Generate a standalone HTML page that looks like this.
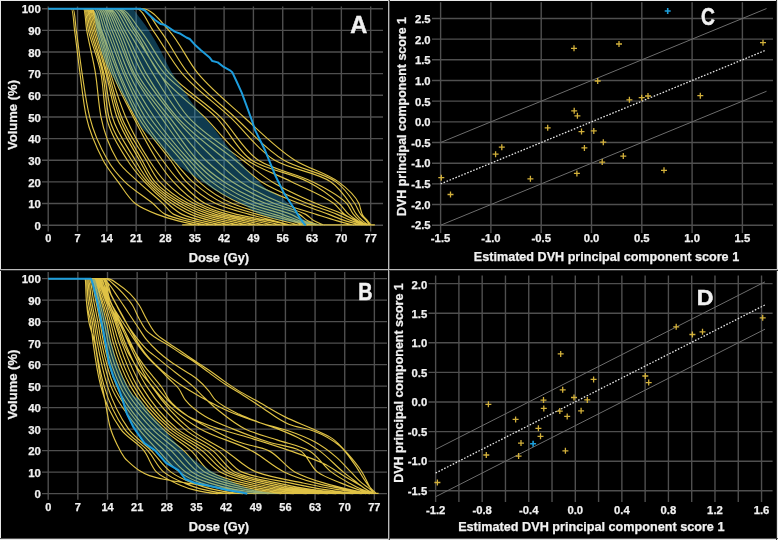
<!DOCTYPE html>
<html><head><meta charset="utf-8"><style>
html,body{margin:0;padding:0;background:#000;width:778px;height:540px;overflow:hidden;}
svg{will-change:transform;opacity:0.999}
text{font-family:"Liberation Sans",sans-serif;}
</style></head><body>
<svg width="778" height="540" viewBox="0 0 778 540" style="display:block">
<rect x="0" y="0" width="778" height="540" fill="#000"/>
<g font-family="Liberation Sans, sans-serif">
<path d="M48.2,6.5V231.5 M77.52,6.5V231.5 M106.83,6.5V231.5 M136.15,6.5V231.5 M165.46,6.5V231.5 M194.78,6.5V231.5 M224.1,6.5V231.5 M253.41,6.5V231.5 M282.73,6.5V231.5 M312.04,6.5V231.5 M341.36,6.5V231.5 M370.68,6.5V231.5 M42,225.2H383 M42,203.55H383 M42,181.9H383 M42,160.25H383 M42,138.6H383 M42,116.95H383 M42,95.3H383 M42,73.65H383 M42,52H383 M42,30.35H383 M42,8.7H383" stroke="#505050" stroke-width="1.4" fill="none"/>
<path d="M48.2,272V499.8 M77.85,272V499.8 M107.5,272V499.8 M137.16,272V499.8 M166.81,272V499.8 M196.46,272V499.8 M226.11,272V499.8 M255.76,272V499.8 M285.42,272V499.8 M315.07,272V499.8 M344.72,272V499.8 M374.37,272V499.8 M42,493.65H387 M42,472.15H387 M42,450.65H387 M42,429.15H387 M42,407.65H387 M42,386.15H387 M42,364.65H387 M42,343.15H387 M42,321.65H387 M42,300.15H387 M42,278.65H387" stroke="#505050" stroke-width="1.4" fill="none"/>
<path d="M440.6,2.3V233 M490.9,2.3V233 M541.2,2.3V233 M591.5,2.3V233 M641.8,2.3V233 M692.1,2.3V233 M742.4,2.3V233 M432,225.22H773 M432,204.55H773 M432,183.88H773 M432,163.2H773 M432,142.53H773 M432,121.85H773 M432,101.17H773 M432,80.5H773 M432,59.82H773 M432,39.15H773 M432,18.47H773" stroke="#505050" stroke-width="1.4" fill="none"/>
<path d="M435.62,275.5V502 M458.9,275.5V502 M482.18,275.5V502 M505.46,275.5V502 M528.74,275.5V502 M552.02,275.5V502 M575.3,275.5V502 M598.58,275.5V502 M621.86,275.5V502 M645.14,275.5V502 M668.42,275.5V502 M691.7,275.5V502 M714.98,275.5V502 M738.26,275.5V502 M761.54,275.5V502 M428.5,490.8H772.6 M428.5,461.2H772.6 M428.5,431.6H772.6 M428.5,402H772.6 M428.5,372.4H772.6 M428.5,342.8H772.6 M428.5,313.2H772.6 M428.5,283.6H772.6" stroke="#505050" stroke-width="1.4" fill="none"/>
<path d="M48.2,8.7C59.21,8.7 69.21,8.7 71.23,8.7C73.16,8.7 73.57,23.12 74.58,30.35C76.61,44.75 78.09,59.24 80.03,73.65C81.98,88.1 83.33,102.94 86.31,116.95C89.48,131.82 96.07,146.82 103.06,160.25C107.04,167.88 112.91,174.85 118.14,181.9C123.62,189.29 128.53,198.35 135.31,203.55C141.28,208.13 149.59,211.5 157.09,214.38C163.85,216.97 170.96,219.11 178.03,220.87C184.92,222.58 191.9,224.09 198.97,225.2 M48.2,8.7C60.13,8.7 70.76,8.7 72.91,8.7C74.82,8.7 75.21,23.12 76.26,30.35C78.36,44.76 79.93,59.26 82.12,73.65C84.33,88.13 86.2,102.98 89.66,116.95C93.35,131.86 100.1,147.09 107.67,160.25C112.13,168 118.46,175.54 124.84,181.9C133.03,190.05 143.78,196.06 152.9,203.55C157.17,207.05 160.82,212.08 165.46,214.38C171.61,217.41 179.34,219.11 186.4,220.87C193.3,222.58 200.28,224.09 207.34,225.2 M48.2,8.7C66.05,8.7 80.44,8.7 83.38,8.7C85.21,8.7 85.48,23.16 86.73,30.35C89.24,44.85 93.27,59.13 95.52,73.65C97.75,87.99 98.3,102.94 100.97,116.95C103.8,131.81 109.91,147.82 117.3,160.25C122.11,168.34 130.99,174.99 138.24,181.9C146.15,189.43 154.99,196.06 162.95,203.55C166.67,207.05 169.71,212.19 173.84,214.38C179.74,217.5 187.71,219.11 194.78,220.87C201.67,222.58 208.65,224.09 215.72,225.2 M48.2,8.7C66.24,8.7 80.58,8.7 84.22,8.7C86.44,8.7 86.78,23.2 88.4,30.35C91.73,44.96 98.38,58.98 100.97,73.65C103.47,87.85 103.62,103.21 106.41,116.95C109.49,132.1 119.01,146.9 127.35,160.25C132.15,167.92 138.36,175.16 144.52,181.9C151.58,189.61 159.46,196.89 167.56,203.55C172.22,207.39 176.93,211.95 182.22,214.38C188.58,217.29 196.09,219.11 203.16,220.87C210.05,222.58 217.03,224.09 224.1,225.2 M48.2,8.7C66.42,8.7 80.75,8.7 85.05,8.7C87.65,8.7 88.25,23.18 90.08,30.35C93.79,44.9 99.8,59 102.64,73.65C105.4,87.87 105.76,103.3 108.93,116.95C112.46,132.19 123.05,146.5 131.54,160.25C136.17,167.75 141.24,175.42 147.04,181.9C154.19,189.9 162.88,197.4 171.75,203.55C177.61,207.62 184.01,211.68 190.59,214.38C197.23,217.09 204.46,219.11 211.53,220.87C218.43,222.58 225.41,224.09 232.47,225.2 M48.2,8.7C66.58,8.7 80.93,8.7 85.89,8.7C88.84,8.7 89.77,23.14 91.76,30.35C95.73,44.8 100.56,59.08 103.9,73.65C107.18,87.94 108.33,103.27 112.28,116.95C116.67,132.16 126.96,146.25 135.31,160.25C139.72,167.64 144.04,175.63 149.55,181.9C156.8,190.16 166.49,197.55 175.93,203.55C182.46,207.7 189.62,211.69 196.87,214.38C204.24,217.1 212.16,219.02 219.91,220.87C226.83,222.52 233.81,223.99 240.85,225.2 M48.2,8.7C66.74,8.7 81.13,8.7 86.73,8.7C90.02,8.7 91.26,23.12 93.43,30.35C97.76,44.74 102.09,59.15 105.99,73.65C109.87,88.01 112.15,103.16 116.88,116.95C122.06,132.04 131.62,146.01 139.5,160.25C143.53,167.55 147,175.87 152.06,181.9C159.23,190.44 170.11,197.68 180.12,203.55C187.31,207.76 195.22,211.7 203.16,214.38C211.25,217.1 219.86,218.94 228.28,220.87C235.23,222.46 242.21,223.91 249.22,225.2 M48.2,8.7C66.89,8.7 81.35,8.7 87.57,8.7C91.19,8.7 92.82,23.07 95.11,30.35C99.6,44.63 103.2,59.22 107.25,73.65C111.3,88.08 114.3,103.11 119.4,116.95C124.93,131.99 134.03,146.08 142.01,160.25C146.13,167.57 149.78,175.93 154.99,181.9C162.52,190.52 173.86,197.83 184.31,203.55C192.16,207.84 200.82,211.7 209.44,214.38C218.25,217.11 227.55,218.86 236.66,220.87C243.62,222.41 250.6,223.85 257.6,225.2 M48.2,8.7C67.03,8.7 81.58,8.7 88.4,8.7C92.34,8.7 94.35,23.03 96.78,30.35C101.48,44.53 104.81,59.24 108.93,73.65C113.05,88.1 116.15,103.23 121.49,116.95C127.39,132.12 137.69,145.99 146.2,160.25C150.55,167.53 154.27,175.87 159.6,181.9C167.15,190.45 178.12,198.09 188.5,203.55C196.92,207.98 206.42,211.71 215.72,214.38C225.25,217.11 235.25,218.78 245.04,220.87C252.01,222.36 258.99,223.8 265.98,225.2 M48.2,8.7C67.17,8.7 81.84,8.7 89.24,8.7C93.49,8.7 95.9,22.99 98.46,30.35C103.34,44.42 106.16,59.36 110.6,73.65C115.13,88.22 119.75,103.03 125.68,116.95C132.05,131.9 140.3,146.58 149.13,160.25C153.99,167.78 159.3,175.64 165.46,181.9C173.59,190.16 183.67,198.21 193.94,203.55C202.57,208.04 212.42,211.77 222,214.38C232.22,217.15 242.94,218.7 253.41,220.87C260.39,222.31 267.37,223.76 274.35,225.2 M48.2,8.7C67.45,8.7 82.31,8.7 90.08,8.7C94.47,8.7 97.01,22.98 99.71,30.35C104.88,44.41 107.52,59.63 112.7,73.65C118.18,88.51 125.97,102.74 133.22,116.95C140.7,131.61 148.16,146.55 157.09,160.25C161.99,167.77 167.36,175.42 173.42,181.9C180.9,189.9 189.56,198.53 198.97,203.55C207.74,208.23 218.29,211.81 228.28,214.38C239.19,217.18 250.63,218.63 261.79,220.87C268.78,222.27 275.75,223.72 282.73,225.2 M48.2,8.7C67.73,8.7 82.79,8.7 90.92,8.7C95.46,8.7 98.11,22.98 100.97,30.35C106.41,44.39 109.45,59.57 114.79,73.65C120.4,88.44 127.38,103.04 134.89,116.95C142.97,131.92 152.51,146.47 162.53,160.25C167.97,167.73 173.74,175.29 180.12,181.9C187.71,189.76 195.95,198.74 205.25,203.55C214.56,208.36 225.99,211.71 236.66,214.38C247.62,217.11 259.01,218.63 270.16,220.87C277.15,222.27 284.13,223.72 291.1,225.2 M48.2,8.7C70.44,8.7 87.07,8.7 94.27,8.7C97.85,8.7 99.22,23.16 101.81,30.35C107.04,44.86 112.22,59.44 118.14,73.65C124.25,88.31 130.41,103.39 138.24,116.95C147.1,132.29 159.79,145.78 170.49,160.25C175.81,167.45 180.34,175.73 186.4,181.9C194.63,190.27 205.12,198.64 215.72,203.55C225.96,208.3 237.95,211.15 249.22,214.38C257.53,216.75 265.98,218.7 274.35,220.87C279.94,222.31 285.52,223.76 291.1,225.2 M48.2,8.7C70.96,8.7 87.94,8.7 95.94,8.7C99.84,8.7 101.61,23.1 104.32,30.35C109.68,44.71 113.96,59.56 119.81,73.65C125.96,88.44 133.02,103.31 141.17,116.95C150.3,132.2 162.04,146.38 173.42,160.25C179.53,167.7 185.61,175.63 192.69,181.9C201.99,190.15 212.86,198.5 224.1,203.55C234.47,208.21 246.33,211.15 257.6,214.38C265.91,216.75 274.35,218.7 282.73,220.87C288.31,222.31 293.9,223.76 299.48,225.2 M48.2,8.7C71.46,8.7 88.8,8.7 97.62,8.7C101.82,8.7 103.87,23.09 106.83,30.35C112.67,44.68 117.44,59.5 123.58,73.65C129.98,88.37 136.54,103.63 144.94,116.95C154.79,132.56 169.37,145.7 181.38,160.25C187.3,167.42 192.33,175.9 198.97,181.9C208.47,190.48 220.59,198.36 232.47,203.55C242.96,208.13 254.71,211.15 265.98,214.38C274.28,216.75 282.84,218.39 291.1,220.87C295.34,222.14 299.51,223.64 303.67,225.2 M48.2,8.7C71.95,8.7 89.67,8.7 99.29,8.7C103.79,8.7 106.26,23.03 109.34,30.35C115.32,44.54 119.4,59.69 125.68,73.65C132.39,88.57 140.51,103.44 149.55,116.95C159.85,132.34 173.22,146.12 185.57,160.25C191.98,167.59 197.96,175.88 205.25,181.9C215.63,190.47 228.32,198.22 240.85,203.55C251.43,208.05 263.16,210.84 274.35,214.38C281.32,216.58 288.35,218.59 295.29,220.87C299.5,222.25 303.68,223.71 307.86,225.2 M48.2,8.7C72.43,8.7 90.55,8.7 100.97,8.7C105.75,8.7 108.55,23.01 111.86,30.35C118.21,44.47 122.44,59.73 129.03,73.65C136.11,88.61 144.85,103.28 154.16,116.95C164.53,132.18 176.79,146.65 189.34,160.25C196.31,167.81 203.47,175.83 211.53,181.9C222.84,190.4 236.06,198.09 249.22,203.55C259.89,207.98 271.69,210.44 282.73,214.38C288.36,216.38 293.86,218.82 299.48,220.87C303.64,222.38 307.83,223.82 312.04,225.2 M48.2,8.7C72.89,8.7 91.43,8.7 102.64,8.7C107.71,8.7 110.81,22.99 114.37,30.35C121.18,44.42 125.67,59.87 132.8,73.65C140.61,88.76 151.03,102.87 160.86,116.95C171.19,131.75 181.36,147.23 193.52,160.25C200.82,168.06 209.1,175.81 217.81,181.9C229.95,190.38 243.78,197.95 257.6,203.55C268.34,207.9 280.37,209.93 291.1,214.38C295.41,216.16 299.35,219.08 303.67,220.87C307.73,222.56 311.92,224.04 316.23,225.2 M48.2,8.7C73.35,8.7 92.32,8.7 104.32,8.7C109.67,8.7 113.24,22.91 116.88,30.35C123.68,44.24 127.38,60.14 134.47,73.65C142.55,89.05 155,102.62 165.46,116.95C176.07,131.48 185.47,147.61 197.71,160.25C205.45,168.24 214.73,175.79 224.1,181.9C237.04,190.34 251.51,197.82 265.98,203.55C276.78,207.83 289.51,209.27 299.48,214.38C302.48,215.91 304.82,219.35 307.86,220.87C311.66,222.78 315.85,224.46 320.42,225.2 M48.2,8.7C73.8,8.7 93.22,8.7 105.99,8.7C111.62,8.7 115.57,22.87 119.4,30.35C126.45,44.13 130.16,60.18 137.4,73.65C145.71,89.09 158.18,102.89 169.23,116.95C180.87,131.76 192.28,147.34 205.67,160.25C213.82,168.11 222.98,175.76 232.47,181.9C245.46,190.31 259.93,197.62 274.35,203.55C284.51,207.73 296.37,209.4 305.76,214.38C308.76,215.96 311.13,219.2 314.14,220.87C317.35,222.65 320.86,224.21 324.61,225.2 M48.2,8.7C74.24,8.7 94.13,8.7 107.67,8.7C113.57,8.7 117.7,22.88 121.91,30.35C129.69,44.16 134.51,60.03 142.43,73.65C151.31,88.93 162.84,103.29 174.26,116.95C186.99,132.19 201.21,146.61 215.72,160.25C223.75,167.8 231.85,175.88 240.85,181.9C253.64,190.46 268.26,197.82 282.73,203.55C293.53,207.83 305.04,210.84 316.23,214.38C323.2,216.58 330.14,218.89 337.17,220.87C342.72,222.43 348.31,223.87 353.92,225.2 M48.2,8.7C74.68,8.7 95.04,8.7 109.34,8.7C115.52,8.7 119.94,22.86 124.42,30.35C132.65,44.11 138.05,59.85 146.2,73.65C155.11,88.74 165.29,104.01 176.77,116.95C191,132.99 209.65,145.89 226.19,160.25C234.54,167.5 242.23,176.23 251.32,181.9C265.78,190.92 283.18,196.99 299.48,203.55C309.13,207.43 319.06,210.68 328.8,214.38C334.4,216.5 339.86,219.1 345.55,220.87C351.03,222.57 356.61,224.07 362.3,225.2 M48.2,8.7C75.5,8.7 96.6,8.7 111.86,8.7C118.3,8.7 122.86,22.9 127.77,30.35C136.92,44.22 144.06,59.53 152.9,73.65C162.13,88.4 170.95,104.39 182.22,116.95C196.99,133.43 217.71,145.78 235.4,160.25C244.21,167.45 252.35,176.03 261.79,181.9C275.86,190.65 292.2,197.12 307.86,203.55C317.47,207.5 327.54,210.45 337.17,214.38C342.11,216.39 346.83,219.09 351.83,220.87C356.6,222.57 361.49,224.06 366.49,225.2 M48.2,8.7C76.31,8.7 98.16,8.7 114.37,8.7C121.08,8.7 125.81,22.96 131.12,30.35C141.18,44.35 150.11,59.22 159.6,73.65C169.09,88.08 177.01,104.57 188.08,116.95C203.01,133.65 224.41,146.15 242.94,160.25C252.61,167.6 261.98,175.7 272.26,181.9C286.08,190.24 301.29,197.02 316.23,203.55C325.16,207.45 334.61,210.33 343.45,214.38C347.73,216.33 351.67,219.21 356.02,220.87C360.71,222.66 365.6,224.22 370.68,225.2 M48.2,8.7C76.58,8.7 98.92,8.7 116.05,8.7C123.15,8.7 128.71,22.75 134.05,30.35C143.55,43.86 149.36,60.77 159.18,73.65C171.46,89.76 189.55,102.31 204.41,116.95C218.85,131.17 231.06,149.39 247.13,160.25C260.27,169.14 277.11,174.49 291.94,181.9C306,188.92 321.66,194.49 333.82,203.55C337.78,206.5 340.69,211.45 344.71,214.38C348.22,216.93 352.52,218.72 356.44,220.87C359.08,222.32 361.74,223.76 364.39,225.2 M48.2,8.7C77.16,8.7 100.02,8.7 117.72,8.7C124.96,8.7 130.47,22.83 136.15,30.35C146.51,44.05 153.67,60.99 164.63,73.65C178.79,90.01 200.23,101.23 215.72,116.95C228.75,130.17 237.52,151.05 251.74,160.25C267.02,170.14 290.74,172.85 308.27,181.9C319.22,187.55 330.16,195.22 339.27,203.55C342.76,206.74 345.34,211.25 348.9,214.38C351.67,216.81 354.93,218.91 358.11,220.87C360.67,222.44 363.33,223.89 366.07,225.2 M48.2,8.7C77.01,8.7 100.39,8.7 119.4,8.7C127.44,8.7 134.04,22.67 140.34,30.35C151.26,43.68 158.47,60.9 169.65,73.65C183.9,89.91 204.65,101.45 220.33,116.95C233.9,130.37 243.59,150.72 258.44,160.25C273.51,169.93 295.67,173.24 312.88,181.9C324.7,187.85 338.45,194.35 346.8,203.55C349.45,206.46 350.91,211.14 353.51,214.38C355.41,216.74 357.77,219.02 360.21,220.87C362.38,222.52 364.77,223.99 367.33,225.2 M48.2,8.7C86.19,8.7 114.79,8.7 136.15,8.7C142.8,8.7 147.54,22.99 152.9,30.35C163.15,44.42 171.14,60.67 182.22,73.65C195.86,89.64 214.28,102.27 229.96,116.95C245.12,131.14 257.89,150.42 274.77,160.25C291.07,169.74 315.62,171.75 330.89,181.9C338.25,186.79 344.73,195.73 350.15,203.55C352.5,206.93 353.98,211.12 356.44,214.38C358.21,216.73 360.42,219.01 362.72,220.87C364.75,222.51 367.01,223.98 369.42,225.2 M48.2,8.7C86.54,8.7 116.44,8.7 140.34,8.7C147.92,8.7 154.06,22.74 160.02,30.35C170.57,43.83 177.72,60.6 188.5,73.65C201.64,89.57 218.97,102.79 234.57,116.95C250.78,131.66 265.78,149.68 283.98,160.25C299.57,169.3 321.78,172 335.92,181.9C343.13,186.95 349.59,195.7 354.76,203.55C356.98,206.92 358.32,211.09 360.62,214.38C362.26,216.71 364.63,218.63 366.49,220.87C367.65,222.27 368.76,223.72 369.84,225.2 M48.2,8.7C84.84,8.7 115.58,8.7 142.43,8.7C152.16,8.7 161.34,22.25 168.81,30.35C180.27,42.76 187.15,60.51 198.13,73.65C211.34,89.46 228.19,102.96 243.78,116.95C260.38,131.84 276.4,148.59 294.87,160.25C308.29,168.72 325.94,172.78 338.43,181.9C346.09,187.49 355.07,195.18 358.95,203.55C360.42,206.73 360.74,211.18 362.3,214.38C363.46,216.76 365.98,218.67 367.74,220.87C368.89,222.29 370,223.74 371.09,225.2 M182.22,224.9H374.86" stroke="#e0c346" stroke-width="1.15" fill="none" stroke-linejoin="round"/>
<path d="M94.27,8.7C109.41,8.7 121.41,8.7 131.12,8.7C134.5,8.7 137.22,14.74 139.92,18.01C143.88,22.82 147.45,28.1 150.81,33.38C153.96,38.35 156.83,43.55 159.6,48.75C162.25,53.73 164.49,58.93 167.14,63.91C169.52,68.38 172.01,72.82 174.68,77.11C177.43,81.55 180.56,85.76 183.47,90.1C186.42,94.49 189.16,99.05 192.27,103.31C195.03,107.1 197.97,110.83 201.06,114.35C203.84,117.51 207.1,120.28 209.86,123.44C214.8,129.12 219.06,135.43 223.68,141.41C225.91,144.3 228.08,147.24 230.38,150.07C233.36,153.75 236.54,157.27 239.59,160.9C242.55,164.42 245.29,168.14 248.39,171.51C251.29,174.68 254.48,177.62 257.6,180.6C260.35,183.24 262.95,186.18 265.98,188.39C268.8,190.46 272.11,192.02 275.19,193.81C277.7,195.26 280.5,196.43 282.73,198.14C285.39,200.18 287.51,203.15 289.85,205.71C292.12,208.21 294.16,210.95 296.55,213.29C298.51,215.22 300.57,217.22 302.83,218.7C305.02,220.14 307.46,221.63 309.95,222.39C312.6,223.19 315.52,223.66 318.33,224.12C320.41,224.46 322.5,224.75 324.61,224.98 L324.61,224.98C319.01,224.91 313.42,224.53 307.86,224.12C303.66,223.81 299.46,223.19 295.29,222.6C291.09,222.01 286.89,221.27 282.73,220.44C278.51,219.59 274.3,218.56 270.16,217.41C265.93,216.23 261.56,215 257.6,213.29C253.03,211.32 249.05,207.74 244.62,205.28C239.99,202.71 235.11,200.55 230.38,198.14C225.48,195.64 220.45,193.32 215.72,190.56C210.67,187.62 205.95,184.06 201.06,180.82C196.18,177.57 191.12,174.53 186.4,171.07C181.79,167.69 177.04,164.22 173,160.25C168.71,156.03 165.45,150.58 161.28,146.18C158.39,143.14 155.14,140.4 152.06,137.52C148.58,134.26 144.39,131.41 141.59,127.77C138.21,123.37 136.06,117.64 133.22,112.62C129.93,106.81 126.46,101.1 123.17,95.3C119.9,89.56 116.63,83.81 113.53,77.98C110.5,72.26 107.07,66.63 104.74,60.66C102.02,53.7 99.6,46.35 98.04,39.01C96.98,34.03 96.09,28.93 95.52,23.85C94.97,18.83 94.48,13.78 94.27,8.7Z" fill="rgba(40,150,200,0.40)" stroke="none"/>
<path d="M48.2,8.7 L140.34,8.7 L144.52,10.22 L149.13,14.76 L154.99,19.96 L160.86,24.07 L164.21,24.72 L168.81,27.54 L174.68,31.65 L180.54,33.81 L186.4,37.49 L189.75,39.01 L194.36,44.21 L200.64,50.05 L209.86,57.85 L212.37,61.09 L217.81,62.39 L223.68,66.94 L230.38,70.62 L232.47,72.57 L237.08,82.53 L241.69,92.7 L245.87,103.96 L251.74,119.98 L255.09,130.16 L265.14,150.51 L275.19,175.19 L283.98,193.16 L294.45,208.96 L299.9,218.06 L304.51,224.33 L305.76,225.2" stroke="#1e9ede" stroke-width="2" fill="none" stroke-linejoin="round"/>
<path d="M48.2,278.65C67.78,278.65 83.78,278.65 85.05,278.65C85.8,278.65 85.76,293 86.32,300.15C86.89,307.34 87.69,314.59 88.87,321.65C90.07,328.92 93.3,335.9 94.8,343.15C96.95,353.55 97.98,364.26 99.88,374.75C101.26,382.38 103.05,389.94 104.54,397.54C106.46,407.35 107.53,417.48 110.05,427C111.68,433.18 114.47,439.26 117.25,445.06C119.3,449.35 121.61,453.77 124.45,457.53C125.43,458.83 126.65,460.04 127.84,461.19C131.24,464.45 134.91,467.72 138.85,470.21C142.14,472.3 145.77,474.31 149.44,475.59C154.03,477.19 159,478.25 163.84,479.25C170.98,480.72 178.23,481.81 185.45,482.9C193.9,484.17 202.4,485.15 210.86,486.34C219.2,487.51 227.5,489.08 235.85,490C246.69,491.18 257.58,492.27 268.47,492.79C276.93,493.19 285.4,493.55 293.89,493.65 M48.2,278.65C68.19,278.65 84.61,278.65 85.48,278.65C85.98,278.65 85.86,293.05 86.32,300.15C86.8,307.38 89.49,314.44 90.56,321.65C91.61,328.77 92.11,336.01 93.1,343.15C95.1,357.55 97.16,372.39 100.73,386.15C104.6,401.08 112.04,417.01 120.64,429.15C126.39,437.28 137.62,442.59 143.93,450.65C148.9,457 151.27,466.92 156.64,472.15C161.27,476.66 168.82,479.93 175.28,482.9C180.72,485.4 186.43,487.95 192.22,489.35C200.46,491.34 208.91,493.17 217.64,493.65 M48.2,278.65C68.39,278.65 84.61,278.65 86.32,278.65C87.29,278.65 87.22,293.04 88.02,300.15C88.83,307.37 91.09,314.45 92.25,321.65C93.41,328.78 94.06,336.02 95.22,343.15C97.56,357.58 100.11,372.38 104.12,386.15C108.45,401.06 115.72,416.98 124.45,429.15C130.26,437.26 140.79,442.87 147.75,450.65C153.64,457.24 157.42,466.85 163.84,472.15C169.25,476.61 176.87,480.02 183.75,482.9C189.88,485.46 196.33,487.93 202.81,489.35C211.79,491.32 220.95,493.11 230.35,493.65 M48.2,278.65C68.56,278.65 84.63,278.65 87.17,278.65C88.58,278.65 88.66,293.03 89.71,300.15C90.78,307.36 92.69,314.46 93.95,321.65C95.2,328.79 96.02,336.03 97.34,343.15C100.01,357.6 103.07,372.39 107.5,386.15C112.32,401.07 119.77,416.78 128.68,429.15C134.46,437.17 143.88,443.27 151.13,450.65C157.97,457.61 163.48,466.73 171.04,472.15C177.18,476.55 184.91,480.1 192.22,482.9C199.04,485.51 206.23,487.91 213.4,489.35C223.11,491.3 232.98,493.07 243.06,493.65 M48.2,278.65C68.72,278.65 84.68,278.65 88.02,278.65C89.84,278.65 90.16,293.01 91.41,300.15C92.67,307.34 94.3,314.47 95.64,321.65C96.98,328.8 97.97,336.04 99.46,343.15C102.47,357.63 105.75,372.81 110.89,386.15C116.82,401.53 128.46,415.78 138.85,429.15C144.73,436.72 151.7,443.62 158.34,450.65C165.24,457.96 171.58,466.63 179.52,472.15C185.76,476.49 193.36,480.24 200.7,482.9C208.16,485.61 216.12,487.89 223.99,489.35C234.43,491.29 245.01,493.03 255.76,493.65 M48.2,278.65C68.69,278.65 84.41,278.65 88.87,278.65C91.27,278.65 92.04,292.97 93.53,300.15C95,307.3 96.42,314.47 97.76,321.65C99.1,328.8 100.06,336.06 101.57,343.15C104.68,357.67 108.4,372.87 113.86,386.15C120.2,401.59 132.11,416.04 143.09,429.15C149.52,436.83 157.52,443.45 164.69,450.65C171.79,457.78 177.88,466.88 185.87,472.15C192.66,476.63 201.15,480.25 209.17,482.9C217.36,485.61 226.02,487.87 234.58,489.35C245.74,491.27 257.03,492.99 268.47,493.65 M48.2,278.65C68.65,278.65 84.22,278.65 89.71,278.65C92.66,278.65 93.98,292.92 95.64,300.15C97.28,307.25 98.54,314.47 99.88,321.65C101.21,328.8 102.15,336.08 103.69,343.15C106.87,357.72 111.07,372.9 116.82,386.15C123.54,401.62 135.44,416.41 146.9,429.15C153.96,437 163.25,443.23 171.04,450.65C178.32,457.57 184.19,467.11 192.22,472.15C199.57,476.76 208.93,480.25 217.64,482.9C226.56,485.61 235.91,487.86 245.17,489.35C257.05,491.26 269.05,492.96 281.18,493.65 M48.2,278.65C68.6,278.65 84.09,278.65 90.56,278.65C94.02,278.65 95.95,292.86 97.76,300.15C99.51,307.2 100.66,314.47 102,321.65C103.33,328.8 104.22,336.1 105.81,343.15C109.1,357.79 113.99,373 120.21,386.15C127.58,401.73 140.31,416.38 152.41,429.15C159.83,436.98 169.39,443.16 177.4,450.65C184.73,457.5 190.52,467.31 198.58,472.15C206.47,476.89 216.72,480.25 226.11,482.9C235.76,485.62 245.8,487.85 255.76,489.35C268.36,491.25 281.06,492.93 293.89,493.65 M48.2,278.65C68.88,278.65 84.54,278.65 91.41,278.65C95.03,278.65 96.96,292.87 99.03,300.15C101.04,307.2 102.57,314.45 104.12,321.65C105.65,328.79 106.62,336.11 108.35,343.15C111.96,357.81 117.06,373.08 123.6,386.15C131.45,401.83 144.83,416.46 157.49,429.15C165.34,437.02 175.43,443.05 183.75,450.65C191.15,457.4 196.86,467.5 204.93,472.15C213.37,477.01 224.5,480.26 234.58,482.9C244.95,485.62 255.69,487.84 266.35,489.35C279.67,491.24 293.07,492.91 306.6,493.65 M48.2,278.65C68.99,278.65 84.74,278.65 92.25,278.65C96.2,278.65 98.45,292.84 100.73,300.15C102.91,307.17 104.54,314.45 106.23,321.65C107.91,328.79 109.01,336.12 110.89,343.15C114.82,357.83 120.12,373.2 126.99,386.15C135.39,401.96 149.63,416.56 163,429.15C171.4,437.07 182.37,442.8 190.95,450.65C198.08,457.17 203.16,467.79 210.86,472.15C219.78,477.2 232.14,480.24 243.06,482.9C254.15,485.61 265.58,487.83 276.94,489.35C290.97,491.23 305.09,492.89 319.3,493.65 M48.2,278.65C69.26,278.65 85.2,278.65 93.1,278.65C97.2,278.65 99.47,292.85 102,300.15C104.43,307.18 106.45,314.43 108.35,321.65C110.22,328.76 111.41,336.13 113.43,343.15C117.68,357.84 123.25,373.16 130.38,386.15C139.03,401.91 152.86,416.9 166.38,429.15C175.3,437.22 186.87,442.99 196.46,450.65C204.84,457.35 211.62,467.41 220.61,472.15C229.71,476.95 241.02,480.29 251.53,482.9C262.6,485.65 274.05,487.83 285.42,489.35C299.44,491.23 313.56,492.89 327.78,493.65 M48.2,278.65C69.36,278.65 85.42,278.65 93.95,278.65C98.35,278.65 100.96,292.82 103.69,300.15C106.3,307.15 108.43,314.43 110.47,321.65C112.48,328.76 113.8,336.13 115.98,343.15C120.53,357.86 126.37,373.15 133.77,386.15C142.72,401.9 156.45,417.13 170.2,429.15C179.55,437.33 191.94,442.85 201.97,450.65C210.42,457.22 217.1,467.64 226.11,472.15C236.02,477.11 248.53,480.16 260,482.9C271.13,485.55 282.52,487.83 293.89,489.35C307.92,491.23 322.03,492.89 336.25,493.65 M48.2,278.65C69.46,278.65 85.65,278.65 94.8,278.65C99.5,278.65 102.44,292.78 105.39,300.15C108.17,307.12 110.32,314.44 112.59,321.65C114.83,328.78 116.53,336.11 118.94,343.15C123.96,357.81 129.64,373.12 137.16,386.15C146.23,401.87 159.75,417.38 173.59,429.15C183.35,437.46 196.67,442.64 207.05,450.65C215.32,457.03 221.58,467.99 230.35,472.15C241.3,477.35 255.63,479.99 268.47,482.9C279.66,485.44 290.99,487.83 302.36,489.35C316.39,491.23 330.5,492.89 344.72,493.65 M48.2,278.65C70.09,278.65 86.69,278.65 96.07,278.65C100.76,278.65 103.54,292.83 106.66,300.15C109.65,307.16 112.16,314.44 114.71,321.65C117.22,328.77 119.23,336.11 121.91,343.15C127.47,357.81 133.53,373.02 141.39,386.15C150.73,401.75 163.6,417.65 177.4,429.15C187.54,437.6 201.85,442.43 212.56,450.65C220.63,456.85 226.5,468.26 235.01,472.15C246.85,477.56 262.86,479.84 276.94,482.9C288.16,485.34 299.47,487.83 310.83,489.35C324.86,491.23 338.97,492.89 353.19,493.65 M48.2,278.65C70.72,278.65 87.73,278.65 97.34,278.65C102.03,278.65 104.58,292.9 107.93,300.15C111.2,307.24 114.34,314.41 117.25,321.65C120.1,328.74 122.34,336.12 125.3,343.15C131.46,357.83 138.05,373.08 146.48,386.15C156.57,401.82 170.29,417.24 184.6,429.15C194.51,437.39 207.59,442.72 218.06,450.65C226.57,457.1 233.17,468.45 242.21,472.15C255.8,477.72 273.78,479.63 289.65,482.9C300.91,485.22 312.18,487.73 323.54,489.35C336.17,491.15 348.88,492.72 361.66,493.65 M48.2,278.65C71.57,278.65 89.11,278.65 99.03,278.65C103.71,278.65 106.21,292.93 109.62,300.15C112.98,307.26 116.18,314.46 119.36,321.65C122.53,328.79 125.35,336.11 128.68,343.15C135.61,357.79 142.65,373 151.56,386.15C162.12,401.74 175.59,417.45 190.11,429.15C200.47,437.5 213.75,443.19 225.26,450.65C235.89,457.53 245.33,467.96 256.61,472.15C270.56,477.33 287.04,479.69 302.36,482.9C313.61,485.25 324.9,487.62 336.25,489.35C347.49,491.06 358.79,492.56 370.14,493.65 M48.2,278.65C73.4,278.65 91.81,278.65 100.3,278.65C104.04,278.65 105.73,292.96 108.35,300.15C110.95,307.29 113.43,314.48 115.98,321.65C118.52,328.82 120.64,336.21 123.6,343.15C126.77,350.55 130.71,357.89 135.04,364.65C139.9,372.24 146.14,379.16 151.98,386.15C158.11,393.49 164.09,401.32 171.04,407.65C179.91,415.72 190.22,423.35 200.7,429.15C216.48,437.88 235.42,442.21 251.53,450.65C263.03,456.68 272.88,466.77 284.57,472.15C294.15,476.57 304.72,480.11 315.07,482.9C324.78,485.52 334.82,487.27 344.72,489.35C351.77,490.83 358.83,492.26 365.9,493.65 M48.2,278.65C74.74,278.65 93.9,278.65 101.15,278.65C104.22,278.65 104.88,293.26 107.5,300.15C110.28,307.45 114.96,314.14 118.52,321.22C120.84,325.85 122.9,330.62 125.3,335.19C128.2,340.74 131.31,346.22 134.61,351.53C137.53,356.23 140.65,360.85 143.93,365.29C146.87,369.28 150.15,373.03 153.25,376.9C156.36,380.77 159.81,384.44 162.57,388.51C165.07,392.19 166.69,396.74 169.35,400.12C174.22,406.33 181.32,411.7 187.99,416.25C195.3,421.23 203.7,425.07 211.71,429.15C220.62,433.68 229.51,438.66 238.82,442.05C248.4,445.53 259.6,446.71 268.47,450.65C278.31,455.03 285.43,467.01 295.16,472.15C303.77,476.7 313.91,479.98 323.54,482.9C331.86,485.43 340.44,487.43 348.96,489.35C355.98,490.93 363.04,492.37 370.14,493.65 M48.2,278.65C74.97,278.65 94.28,278.65 102.42,278.65C105.82,278.65 106.68,293.32 109.62,300.15C112.47,306.75 116.78,312.89 120.64,319.07C123.6,323.81 126.83,328.4 129.95,333.04C133.04,337.64 135.99,342.36 139.27,346.8C142.21,350.79 145.29,354.75 148.59,358.41C151.51,361.65 154.82,364.56 157.91,367.66C161.75,371.51 165.51,375.42 169.35,379.27C172.44,382.37 176.09,385.12 178.67,388.51C181.31,391.99 182.77,396.79 185.45,400.12C190.48,406.41 197.92,411.99 204.93,416.25C213.58,421.5 223.71,425.23 233.31,429.15C244.85,433.86 256.59,438.35 268.47,442.05C278.92,445.3 291.94,446.3 300.24,450.65C307.21,454.31 310.76,467.11 317.61,472.15C323.88,476.76 332.73,479.65 340.48,482.9C346.05,485.23 351.7,487.47 357.43,489.35C362.3,490.95 367.25,492.4 372.25,493.65 M48.2,278.65C75.9,278.65 94.07,278.65 103.69,278.65C105.72,278.65 106.7,285.87 108.35,289.4C110.84,294.72 113.64,299.91 116.4,305.09C119.28,310.51 122.12,315.98 125.3,321.22C128.19,326 131.27,330.74 134.61,335.19C138.26,340.06 142.14,344.97 146.48,349.17C149.95,352.54 154.1,355.33 157.91,358.41C161.72,361.5 165.51,364.61 169.35,367.66C173.28,370.78 177.28,373.79 181.21,376.9C185.05,379.95 189.01,382.89 192.65,386.15C195.89,389.06 198.81,392.37 201.97,395.39C207.09,400.3 212.15,405.38 217.64,409.8C226.41,416.85 235.62,424.47 245.6,429.15C255.32,433.71 266.48,436.36 276.94,439.9C287.66,443.53 299.88,445.71 309.14,450.65C317.62,455.18 323.45,466.01 331.59,472.15C336.94,476.18 343.02,479.6 348.96,482.9C353.1,485.2 357.3,487.57 361.66,489.35C365.77,491.03 370.02,492.5 374.37,493.65 M48.2,278.65C70.54,278.65 87.95,278.65 103.27,278.65C104.66,278.65 105.95,280.7 107.08,281.88C111.54,286.52 114.79,292.57 118.52,298C121.69,302.61 124.73,307.32 127.84,311.98C130.94,316.63 134.03,321.3 137.16,325.95C140.25,330.55 143.04,335.45 146.48,339.71C149.88,343.93 153.88,347.86 157.91,351.53C161.52,354.82 165.41,357.9 169.35,360.78C173.84,364.07 178.67,366.94 183.33,370.02C187.99,373.11 193.05,375.79 197.31,379.27C201.45,382.65 205.28,386.76 208.74,390.88C211.18,393.78 212.91,397.65 215.52,400.12C221.71,405.99 230.74,410.18 238.82,414.1C245.61,417.4 252.88,420.01 260,422.7C266.02,424.97 272.22,426.82 278.21,429.15C284.94,431.77 291.72,434.51 298.12,437.75C305.44,441.46 312.7,445.85 319.3,450.65C327.92,456.91 335.14,465.32 343.45,472.15C347.98,475.87 352.76,479.33 357.43,482.9C360.25,485.06 362.91,487.52 365.9,489.35C368.57,490.99 371.4,492.45 374.37,493.65 M48.2,278.65C70.09,278.65 88.53,278.65 105.39,278.65C108.41,278.65 111.24,282.32 113.86,284.45C117.21,287.19 120.26,290.46 123.18,293.7C126.48,297.37 129.92,301.17 132.5,305.31C135.15,309.57 136.81,314.61 139.27,319.07C141.47,323.04 143.58,327.46 146.48,330.68C148.86,333.33 152.28,335.49 155.37,337.56C159.14,340.09 163.35,342.04 167.23,344.44C171.98,347.37 176.51,350.68 181.21,353.69C184.99,356.1 188.92,358.3 192.65,360.78C198.15,364.44 203.38,368.52 208.74,372.39C214.11,376.26 219.34,380.35 224.84,384C230.89,388.02 237.33,391.5 243.48,395.39C248.9,398.82 254.18,402.47 259.58,405.93C269.25,412.13 278.41,420.16 288.8,424.2C296.76,427.3 306.19,428.24 314.22,431.3C323.15,434.7 332.55,439.94 339.64,445.92C345.33,450.72 349.85,457.88 354.46,464.19C359.6,471.23 363.34,479.53 368.87,486.12C371.12,488.82 373.78,491.28 376.49,493.65 M48.2,278.65C69.85,278.65 89.19,278.65 107.5,278.65C111.35,278.65 115.08,282.24 118.52,284.45C122.58,287.07 126.55,290.29 129.95,293.7C133.4,297.15 136.63,301.2 139.27,305.31C142.03,309.6 143.9,314.59 146.48,319.07C149.22,323.84 151.83,329.13 155.37,333.04C158.58,336.6 163.17,339.37 167.23,342.29C171.76,345.54 176.57,348.42 181.21,351.53C185.75,354.58 190.23,357.73 194.77,360.78C199.4,363.89 204.15,366.86 208.74,370.02C214.19,373.78 219.4,377.88 224.84,381.63C229.44,384.8 234.06,387.98 238.82,390.88C244.34,394.23 250.12,397.17 255.76,400.34C265.53,405.83 274.99,411.97 284.99,416.89C294.48,421.57 304.6,425.1 314.22,429.58C320.36,432.44 327.06,434.93 332.44,438.61C337.95,442.38 342.66,448.09 347.26,453.23C352.4,458.97 357.48,465.07 361.66,471.5C365.8,477.87 368.24,485.62 372.68,491.71C373.17,492.4 373.79,493.02 374.37,493.65 M48.2,278.65C75.2,278.65 94.65,278.65 102.84,278.65C106.25,278.65 107.3,293.15 110.05,300.15C113.51,308.97 118.18,317.38 122.33,325.95C125.81,333.14 129.39,340.28 132.92,347.45C136.45,354.62 139.45,362.18 143.51,368.95C147.13,374.99 151.78,380.59 156.22,386.15C160.93,392.06 165.61,398.26 171.04,403.35C176.14,408.12 181.95,412.85 187.99,416.25C195.82,420.65 204.77,423.94 213.4,427C225.16,431.16 237.44,434.05 249.41,437.75C262.87,441.91 276.37,446.01 289.65,450.65C301.05,454.63 312.78,458.38 323.54,463.55C330.9,467.08 337.61,472.23 344.72,476.45C349.63,479.37 354.64,482.13 359.55,485.05C363.1,487.16 366.52,489.52 370.14,491.5C371.52,492.26 372.94,492.96 374.37,493.65 M48.2,278.65C75.64,278.65 94.8,278.65 104.54,278.65C107.76,278.65 109.09,290.26 111.74,295.85C114.88,302.47 118.8,308.75 122.33,315.2C125.86,321.65 129.16,328.25 132.92,334.55C136.87,341.16 140.88,347.96 145.63,353.9C150.58,360.09 156.56,365.84 162.57,371.1C167.87,375.74 173.67,380.02 179.52,384C186.32,388.64 193.49,392.89 200.7,396.9C210.36,402.28 220.2,407.65 230.35,411.95C239.97,416.03 250.01,419.48 260,422.7C269.78,425.85 279.98,427.95 289.65,431.3C298.3,434.3 307.12,437.76 315.07,442.05C322.55,446.09 329.73,451.55 336.25,457.1C341.55,461.62 346.13,467.13 351.07,472.15C354.6,475.73 357.9,479.62 361.66,482.9C364.32,485.21 367.5,487.01 370.14,489.35C371.63,490.68 373.03,492.14 374.37,493.65 M209.17,493.35H378.61" stroke="#e0c346" stroke-width="1.15" fill="none" stroke-linejoin="round"/>
<path d="M90.56,278.65C91.88,278.65 93.3,278.65 93.95,278.65C95.73,278.65 96.4,284.33 97.34,287.25C98.69,291.46 99.65,295.84 100.73,300.15C102.51,307.29 104.05,314.5 105.81,321.65C107.58,328.83 109.36,336.02 111.32,343.15C113.29,350.35 115.16,357.66 117.67,364.65C119.77,370.52 122.45,376.3 125.3,381.85C127.56,386.27 129.75,391.3 132.92,394.75C134.92,396.93 138.43,398.2 140.54,400.34C144.27,404.1 146.39,409.87 149.86,414.1C152.39,417.17 155.6,419.75 158.34,422.7C163.48,428.24 168.04,434.34 173.16,439.9C178.6,445.81 183.96,452.13 190.11,457.1C197.16,462.81 205.4,467.6 213.4,472.15C220.26,476.05 227.35,479.76 234.58,482.9C240.11,485.29 245.74,487.87 251.53,489.35C257.04,490.76 262.78,491.92 268.47,492.57C272.68,493.06 276.92,493.48 281.18,493.65 L260,493.65C254.31,493.65 248.67,493.23 243.06,492.79C237.65,492.36 232.3,491.05 226.96,490C221.57,488.93 216.24,487.52 210.86,486.34C205.5,485.16 199.99,484.39 194.77,482.9C191.59,481.99 187.95,480.89 185.45,479.25C182.56,477.35 181.01,472.61 178.25,470.21C174.82,467.25 169.54,465.79 165.96,462.9C161.8,459.55 159.04,454 154.95,450.43C151.79,447.68 147.27,445.98 144.36,443.12C139.94,438.8 136.55,432.61 133.34,427C130.98,422.87 128.68,418.54 126.99,414.1C125.29,409.66 124.25,404.9 122.75,400.34C121.42,396.3 120.07,392.25 118.52,388.3C117,384.44 114.9,380.78 113.43,376.9C111.82,372.62 110.27,368.23 109.2,363.79C107.57,357.03 106.66,350.03 105.39,343.15C104.54,338.56 103.77,333.96 102.84,329.39C102.32,326.8 101.69,324.23 101.15,321.65C99.65,314.5 98.5,307.27 96.91,300.15C95.79,295.1 94.66,290 93.1,285.1C92.4,282.91 91.49,280.77 90.56,278.65Z" fill="rgba(40,150,200,0.40)" stroke="none"/>
<path d="M48.2,278.65 L90.98,278.65 L93.1,285.1 L96.91,300.15 L101.15,321.65 L102.84,329.39 L105.39,343.15 L109.2,363.79 L113.43,376.9 L118.52,388.3 L122.75,400.34 L126.99,414.1 L133.34,427 L144.36,443.12 L154.95,450.43 L165.96,462.9 L178.25,470.21 L185.45,479.25 L194.77,482.9 L210.86,486.34 L226.96,490 L243.06,492.79 L247.29,493.65" stroke="#1e9ede" stroke-width="2" fill="none" stroke-linejoin="round"/>
<path d="M440.6,142.53L766.54,8.55" stroke="#6e6e6e" stroke-width="1" fill="none"/>
<path d="M440.6,225.22L766.54,91.25" stroke="#6e6e6e" stroke-width="1" fill="none"/>
<path d="M440.6,183.88L765.54,50.31" stroke="#e6e6e6" stroke-width="1.3" stroke-dasharray="1.6 1.6" fill="none"/>
<path d="M571,48.3h6 M574,45.3v6 M616,44h6 M619,41v6 M760,42.7h6 M763,39.7v6 M594.7,81h6 M597.7,78v6 M697.3,95.7h6 M700.3,92.7v6 M626.4,99.8h6 M629.4,96.8v6 M638.7,97.7h6 M641.7,94.7v6 M645,96h6 M648,93v6 M571.2,110.8h6 M574.2,107.8v6 M574.4,115.8h6 M577.4,112.8v6 M544.7,127.8h6 M547.7,124.8v6 M578.5,131.6h6 M581.5,128.6v6 M590.8,130.9h6 M593.8,127.9v6 M600.3,142.2h6 M603.3,139.2v6 M498.8,147.2h6 M501.8,144.2v6 M581.4,147.9h6 M584.4,144.9v6 M492.6,154.2h6 M495.6,151.2v6 M620.3,156.1h6 M623.3,153.1v6 M599.2,162.1h6 M602.2,159.1v6 M573.9,173.4h6 M576.9,170.4v6 M527.4,178.8h6 M530.4,175.8v6 M438.3,177.7h6 M441.3,174.7v6 M447.5,194.5h6 M450.5,191.5v6 M661,170.3h6 M664,167.3v6" stroke="#d4b23c" stroke-width="1.3" fill="none"/>
<path d="M664.7,11h6 M667.7,8v6" stroke="#1ea0dc" stroke-width="1.6" fill="none"/>
<path d="M435.62,449.36L765.03,281.82" stroke="#6e6e6e" stroke-width="1" fill="none"/>
<path d="M435.62,496.72L765.03,329.18" stroke="#6e6e6e" stroke-width="1" fill="none"/>
<path d="M435.62,473.04L766.2,304.32" stroke="#e6e6e6" stroke-width="1.3" stroke-dasharray="1.6 1.6" fill="none"/>
<path d="M557.7,353.9h6 M560.7,350.9v6 M590.6,379.4h6 M593.6,376.4v6 M559.7,389.8h6 M562.7,386.8v6 M571,397.5h6 M574,394.5v6 M584.3,399.9h6 M587.3,396.9v6 M540.5,400.1h6 M543.5,397.1v6 M485.4,404.3h6 M488.4,401.3v6 M540.8,408.4h6 M543.8,405.4v6 M556.8,411.1h6 M559.8,408.1v6 M578.1,410.8h6 M581.1,407.8v6 M564.2,416.4h6 M567.2,413.4v6 M512.6,419.4h6 M515.6,416.4v6 M535.4,428.3h6 M538.4,425.3v6 M537.5,436.3h6 M540.5,433.3v6 M518,443.1h6 M521,440.1v6 M562.4,450.8h6 M565.4,447.8v6 M483.3,455h6 M486.3,452v6 M515.6,456.1h6 M518.6,453.1v6 M434.4,482.5h6 M437.4,479.5v6 M673.2,326.8h6 M676.2,323.8v6 M689.4,334.5h6 M692.4,331.5v6 M699.5,331.8h6 M702.5,328.8v6 M759.7,317.8h6 M762.7,314.8v6 M642.3,376h6 M645.3,373v6 M645.7,382.6h6 M648.7,379.6v6" stroke="#d4b23c" stroke-width="1.3" fill="none"/>
<path d="M530.1,443.7h6 M533.1,440.7v6" stroke="#1ea0dc" stroke-width="1.6" fill="none"/>
<text x="40.8" y="229.9" font-size="11.4" text-anchor="end" fill="#f2f2f2" font-weight="bold" stroke="#f2f2f2" stroke-width="0.25">0</text>
<text x="40.8" y="208.25" font-size="11.4" text-anchor="end" fill="#f2f2f2" font-weight="bold" stroke="#f2f2f2" stroke-width="0.25">10</text>
<text x="40.8" y="186.6" font-size="11.4" text-anchor="end" fill="#f2f2f2" font-weight="bold" stroke="#f2f2f2" stroke-width="0.25">20</text>
<text x="40.8" y="164.95" font-size="11.4" text-anchor="end" fill="#f2f2f2" font-weight="bold" stroke="#f2f2f2" stroke-width="0.25">30</text>
<text x="40.8" y="143.3" font-size="11.4" text-anchor="end" fill="#f2f2f2" font-weight="bold" stroke="#f2f2f2" stroke-width="0.25">40</text>
<text x="40.8" y="121.65" font-size="11.4" text-anchor="end" fill="#f2f2f2" font-weight="bold" stroke="#f2f2f2" stroke-width="0.25">50</text>
<text x="40.8" y="100" font-size="11.4" text-anchor="end" fill="#f2f2f2" font-weight="bold" stroke="#f2f2f2" stroke-width="0.25">60</text>
<text x="40.8" y="78.35" font-size="11.4" text-anchor="end" fill="#f2f2f2" font-weight="bold" stroke="#f2f2f2" stroke-width="0.25">70</text>
<text x="40.8" y="56.7" font-size="11.4" text-anchor="end" fill="#f2f2f2" font-weight="bold" stroke="#f2f2f2" stroke-width="0.25">80</text>
<text x="40.8" y="35.05" font-size="11.4" text-anchor="end" fill="#f2f2f2" font-weight="bold" stroke="#f2f2f2" stroke-width="0.25">90</text>
<text x="40.8" y="13.4" font-size="11.4" text-anchor="end" fill="#f2f2f2" font-weight="bold" stroke="#f2f2f2" stroke-width="0.25">100</text>
<text x="48.2" y="241.6" font-size="11" text-anchor="middle" fill="#f2f2f2" font-weight="bold" stroke="#f2f2f2" stroke-width="0.25">0</text>
<text x="77.52" y="241.6" font-size="11" text-anchor="middle" fill="#f2f2f2" font-weight="bold" stroke="#f2f2f2" stroke-width="0.25">7</text>
<text x="106.83" y="241.6" font-size="11" text-anchor="middle" fill="#f2f2f2" font-weight="bold" stroke="#f2f2f2" stroke-width="0.25">14</text>
<text x="136.15" y="241.6" font-size="11" text-anchor="middle" fill="#f2f2f2" font-weight="bold" stroke="#f2f2f2" stroke-width="0.25">21</text>
<text x="165.46" y="241.6" font-size="11" text-anchor="middle" fill="#f2f2f2" font-weight="bold" stroke="#f2f2f2" stroke-width="0.25">28</text>
<text x="194.78" y="241.6" font-size="11" text-anchor="middle" fill="#f2f2f2" font-weight="bold" stroke="#f2f2f2" stroke-width="0.25">35</text>
<text x="224.1" y="241.6" font-size="11" text-anchor="middle" fill="#f2f2f2" font-weight="bold" stroke="#f2f2f2" stroke-width="0.25">42</text>
<text x="253.41" y="241.6" font-size="11" text-anchor="middle" fill="#f2f2f2" font-weight="bold" stroke="#f2f2f2" stroke-width="0.25">49</text>
<text x="282.73" y="241.6" font-size="11" text-anchor="middle" fill="#f2f2f2" font-weight="bold" stroke="#f2f2f2" stroke-width="0.25">56</text>
<text x="312.04" y="241.6" font-size="11" text-anchor="middle" fill="#f2f2f2" font-weight="bold" stroke="#f2f2f2" stroke-width="0.25">63</text>
<text x="341.36" y="241.6" font-size="11" text-anchor="middle" fill="#f2f2f2" font-weight="bold" stroke="#f2f2f2" stroke-width="0.25">70</text>
<text x="370.68" y="241.6" font-size="11" text-anchor="middle" fill="#f2f2f2" font-weight="bold" stroke="#f2f2f2" stroke-width="0.25">77</text>
<text x="40.8" y="498.35" font-size="11.4" text-anchor="end" fill="#f2f2f2" font-weight="bold" stroke="#f2f2f2" stroke-width="0.25">0</text>
<text x="40.8" y="476.85" font-size="11.4" text-anchor="end" fill="#f2f2f2" font-weight="bold" stroke="#f2f2f2" stroke-width="0.25">10</text>
<text x="40.8" y="455.35" font-size="11.4" text-anchor="end" fill="#f2f2f2" font-weight="bold" stroke="#f2f2f2" stroke-width="0.25">20</text>
<text x="40.8" y="433.85" font-size="11.4" text-anchor="end" fill="#f2f2f2" font-weight="bold" stroke="#f2f2f2" stroke-width="0.25">30</text>
<text x="40.8" y="412.35" font-size="11.4" text-anchor="end" fill="#f2f2f2" font-weight="bold" stroke="#f2f2f2" stroke-width="0.25">40</text>
<text x="40.8" y="390.85" font-size="11.4" text-anchor="end" fill="#f2f2f2" font-weight="bold" stroke="#f2f2f2" stroke-width="0.25">50</text>
<text x="40.8" y="369.35" font-size="11.4" text-anchor="end" fill="#f2f2f2" font-weight="bold" stroke="#f2f2f2" stroke-width="0.25">60</text>
<text x="40.8" y="347.85" font-size="11.4" text-anchor="end" fill="#f2f2f2" font-weight="bold" stroke="#f2f2f2" stroke-width="0.25">70</text>
<text x="40.8" y="326.35" font-size="11.4" text-anchor="end" fill="#f2f2f2" font-weight="bold" stroke="#f2f2f2" stroke-width="0.25">80</text>
<text x="40.8" y="304.85" font-size="11.4" text-anchor="end" fill="#f2f2f2" font-weight="bold" stroke="#f2f2f2" stroke-width="0.25">90</text>
<text x="40.8" y="283.35" font-size="11.4" text-anchor="end" fill="#f2f2f2" font-weight="bold" stroke="#f2f2f2" stroke-width="0.25">100</text>
<text x="48.2" y="511.1" font-size="11" text-anchor="middle" fill="#f2f2f2" font-weight="bold" stroke="#f2f2f2" stroke-width="0.25">0</text>
<text x="77.85" y="511.1" font-size="11" text-anchor="middle" fill="#f2f2f2" font-weight="bold" stroke="#f2f2f2" stroke-width="0.25">7</text>
<text x="107.5" y="511.1" font-size="11" text-anchor="middle" fill="#f2f2f2" font-weight="bold" stroke="#f2f2f2" stroke-width="0.25">14</text>
<text x="137.16" y="511.1" font-size="11" text-anchor="middle" fill="#f2f2f2" font-weight="bold" stroke="#f2f2f2" stroke-width="0.25">21</text>
<text x="166.81" y="511.1" font-size="11" text-anchor="middle" fill="#f2f2f2" font-weight="bold" stroke="#f2f2f2" stroke-width="0.25">28</text>
<text x="196.46" y="511.1" font-size="11" text-anchor="middle" fill="#f2f2f2" font-weight="bold" stroke="#f2f2f2" stroke-width="0.25">35</text>
<text x="226.11" y="511.1" font-size="11" text-anchor="middle" fill="#f2f2f2" font-weight="bold" stroke="#f2f2f2" stroke-width="0.25">42</text>
<text x="255.76" y="511.1" font-size="11" text-anchor="middle" fill="#f2f2f2" font-weight="bold" stroke="#f2f2f2" stroke-width="0.25">49</text>
<text x="285.42" y="511.1" font-size="11" text-anchor="middle" fill="#f2f2f2" font-weight="bold" stroke="#f2f2f2" stroke-width="0.25">56</text>
<text x="315.07" y="511.1" font-size="11" text-anchor="middle" fill="#f2f2f2" font-weight="bold" stroke="#f2f2f2" stroke-width="0.25">63</text>
<text x="344.72" y="511.1" font-size="11" text-anchor="middle" fill="#f2f2f2" font-weight="bold" stroke="#f2f2f2" stroke-width="0.25">70</text>
<text x="374.37" y="511.1" font-size="11" text-anchor="middle" fill="#f2f2f2" font-weight="bold" stroke="#f2f2f2" stroke-width="0.25">77</text>
<text x="218.9" y="261.8" font-size="12" text-anchor="middle" fill="#f2f2f2" font-weight="bold" stroke="#f2f2f2" stroke-width="0.25" textLength="60.5" lengthAdjust="spacingAndGlyphs">Dose (Gy)</text>
<text x="218.9" y="530.6" font-size="12" text-anchor="middle" fill="#f2f2f2" font-weight="bold" stroke="#f2f2f2" stroke-width="0.25" textLength="60.5" lengthAdjust="spacingAndGlyphs">Dose (Gy)</text>
<text x="17.3" y="115" font-size="12.5" text-anchor="middle" fill="#f2f2f2" font-weight="bold" stroke="#f2f2f2" stroke-width="0.25" textLength="70" lengthAdjust="spacingAndGlyphs" transform="rotate(-90 17.3 115)">Volume (%)</text>
<text x="17.5" y="384.6" font-size="12.5" text-anchor="middle" fill="#f2f2f2" font-weight="bold" stroke="#f2f2f2" stroke-width="0.25" textLength="70" lengthAdjust="spacingAndGlyphs" transform="rotate(-90 17.5 384.6)">Volume (%)</text>
<text x="430.6" y="229.1" font-size="11.3" text-anchor="end" fill="#f2f2f2" font-weight="bold" stroke="#f2f2f2" stroke-width="0.25">-2.5</text>
<text x="430.6" y="208.5" font-size="11.3" text-anchor="end" fill="#f2f2f2" font-weight="bold" stroke="#f2f2f2" stroke-width="0.25">-2.0</text>
<text x="430.6" y="187.9" font-size="11.3" text-anchor="end" fill="#f2f2f2" font-weight="bold" stroke="#f2f2f2" stroke-width="0.25">-1.5</text>
<text x="430.6" y="167.3" font-size="11.3" text-anchor="end" fill="#f2f2f2" font-weight="bold" stroke="#f2f2f2" stroke-width="0.25">-1.0</text>
<text x="430.6" y="146.7" font-size="11.3" text-anchor="end" fill="#f2f2f2" font-weight="bold" stroke="#f2f2f2" stroke-width="0.25">-0.5</text>
<text x="430.6" y="126.1" font-size="11.3" text-anchor="end" fill="#f2f2f2" font-weight="bold" stroke="#f2f2f2" stroke-width="0.25">0.0</text>
<text x="430.6" y="105.5" font-size="11.3" text-anchor="end" fill="#f2f2f2" font-weight="bold" stroke="#f2f2f2" stroke-width="0.25">0.5</text>
<text x="430.6" y="84.9" font-size="11.3" text-anchor="end" fill="#f2f2f2" font-weight="bold" stroke="#f2f2f2" stroke-width="0.25">1.0</text>
<text x="430.6" y="64.3" font-size="11.3" text-anchor="end" fill="#f2f2f2" font-weight="bold" stroke="#f2f2f2" stroke-width="0.25">1.5</text>
<text x="430.6" y="43.7" font-size="11.3" text-anchor="end" fill="#f2f2f2" font-weight="bold" stroke="#f2f2f2" stroke-width="0.25">2.0</text>
<text x="430.6" y="23.1" font-size="11.3" text-anchor="end" fill="#f2f2f2" font-weight="bold" stroke="#f2f2f2" stroke-width="0.25">2.5</text>
<text x="440.6" y="242.2" font-size="11.3" text-anchor="middle" fill="#f2f2f2" font-weight="bold" stroke="#f2f2f2" stroke-width="0.25">-1.5</text>
<text x="490.9" y="242.2" font-size="11.3" text-anchor="middle" fill="#f2f2f2" font-weight="bold" stroke="#f2f2f2" stroke-width="0.25">-1.0</text>
<text x="541.2" y="242.2" font-size="11.3" text-anchor="middle" fill="#f2f2f2" font-weight="bold" stroke="#f2f2f2" stroke-width="0.25">-0.5</text>
<text x="591.5" y="242.2" font-size="11.3" text-anchor="middle" fill="#f2f2f2" font-weight="bold" stroke="#f2f2f2" stroke-width="0.25">0.0</text>
<text x="641.8" y="242.2" font-size="11.3" text-anchor="middle" fill="#f2f2f2" font-weight="bold" stroke="#f2f2f2" stroke-width="0.25">0.5</text>
<text x="692.1" y="242.2" font-size="11.3" text-anchor="middle" fill="#f2f2f2" font-weight="bold" stroke="#f2f2f2" stroke-width="0.25">1.0</text>
<text x="742.4" y="242.2" font-size="11.3" text-anchor="middle" fill="#f2f2f2" font-weight="bold" stroke="#f2f2f2" stroke-width="0.25">1.5</text>
<text x="606.5" y="261.2" font-size="12" text-anchor="middle" fill="#f2f2f2" font-weight="bold" stroke="#f2f2f2" stroke-width="0.25" textLength="265.3" lengthAdjust="spacingAndGlyphs">Estimated DVH principal component score 1</text>
<text x="405.6" y="116.5" font-size="12.3" text-anchor="middle" fill="#f2f2f2" font-weight="bold" stroke="#f2f2f2" stroke-width="0.25" textLength="199" lengthAdjust="spacingAndGlyphs" transform="rotate(-90 405.6 116.5)">DVH principal component score 1</text>
<text x="427.2" y="494.65" font-size="11.3" text-anchor="end" fill="#f2f2f2" font-weight="bold" stroke="#f2f2f2" stroke-width="0.25">-1.5</text>
<text x="427.2" y="465.2" font-size="11.3" text-anchor="end" fill="#f2f2f2" font-weight="bold" stroke="#f2f2f2" stroke-width="0.25">-1.0</text>
<text x="427.2" y="435.75" font-size="11.3" text-anchor="end" fill="#f2f2f2" font-weight="bold" stroke="#f2f2f2" stroke-width="0.25">-0.5</text>
<text x="427.2" y="406.3" font-size="11.3" text-anchor="end" fill="#f2f2f2" font-weight="bold" stroke="#f2f2f2" stroke-width="0.25">0.0</text>
<text x="427.2" y="376.85" font-size="11.3" text-anchor="end" fill="#f2f2f2" font-weight="bold" stroke="#f2f2f2" stroke-width="0.25">0.5</text>
<text x="427.2" y="347.4" font-size="11.3" text-anchor="end" fill="#f2f2f2" font-weight="bold" stroke="#f2f2f2" stroke-width="0.25">1.0</text>
<text x="427.2" y="317.95" font-size="11.3" text-anchor="end" fill="#f2f2f2" font-weight="bold" stroke="#f2f2f2" stroke-width="0.25">1.5</text>
<text x="427.2" y="288.5" font-size="11.3" text-anchor="end" fill="#f2f2f2" font-weight="bold" stroke="#f2f2f2" stroke-width="0.25">2.0</text>
<text x="435.62" y="513.8" font-size="11.3" text-anchor="middle" fill="#f2f2f2" font-weight="bold" stroke="#f2f2f2" stroke-width="0.25">-1.2</text>
<text x="482.18" y="513.8" font-size="11.3" text-anchor="middle" fill="#f2f2f2" font-weight="bold" stroke="#f2f2f2" stroke-width="0.25">-0.8</text>
<text x="528.74" y="513.8" font-size="11.3" text-anchor="middle" fill="#f2f2f2" font-weight="bold" stroke="#f2f2f2" stroke-width="0.25">-0.4</text>
<text x="575.3" y="513.8" font-size="11.3" text-anchor="middle" fill="#f2f2f2" font-weight="bold" stroke="#f2f2f2" stroke-width="0.25">0.0</text>
<text x="621.86" y="513.8" font-size="11.3" text-anchor="middle" fill="#f2f2f2" font-weight="bold" stroke="#f2f2f2" stroke-width="0.25">0.4</text>
<text x="668.42" y="513.8" font-size="11.3" text-anchor="middle" fill="#f2f2f2" font-weight="bold" stroke="#f2f2f2" stroke-width="0.25">0.8</text>
<text x="714.98" y="513.8" font-size="11.3" text-anchor="middle" fill="#f2f2f2" font-weight="bold" stroke="#f2f2f2" stroke-width="0.25">1.2</text>
<text x="761.54" y="513.8" font-size="11.3" text-anchor="middle" fill="#f2f2f2" font-weight="bold" stroke="#f2f2f2" stroke-width="0.25">1.6</text>
<text x="591.3" y="531" font-size="12" text-anchor="middle" fill="#f2f2f2" font-weight="bold" stroke="#f2f2f2" stroke-width="0.25" textLength="266.3" lengthAdjust="spacingAndGlyphs">Estimated DVH principal component score 1</text>
<text x="402.7" y="383" font-size="12.3" text-anchor="middle" fill="#f2f2f2" font-weight="bold" stroke="#f2f2f2" stroke-width="0.25" textLength="199.5" lengthAdjust="spacingAndGlyphs" transform="rotate(-90 402.7 383)">DVH principal component score 1</text>
<text x="358.7" y="32.6" font-size="23" text-anchor="middle" fill="#f2f2f2" font-weight="bold" stroke="#f2f2f2" stroke-width="0.5" textLength="17" lengthAdjust="spacingAndGlyphs">A</text>
<text x="365.5" y="299.5" font-size="23" text-anchor="middle" fill="#f2f2f2" font-weight="bold" stroke="#f2f2f2" stroke-width="0.5" textLength="14.3" lengthAdjust="spacingAndGlyphs">B</text>
<text x="707.9" y="25.2" font-size="23" text-anchor="middle" fill="#f2f2f2" font-weight="bold" stroke="#f2f2f2" stroke-width="0.5" textLength="13.9" lengthAdjust="spacingAndGlyphs">C</text>
<text x="705.2" y="305.1" font-size="22" text-anchor="middle" fill="#f2f2f2" font-weight="bold" stroke="#f2f2f2" stroke-width="0.5" textLength="16.7" lengthAdjust="spacingAndGlyphs">D</text>
</g>
<path d="M0.5,0V540 M777.5,0V540 M0,0.5H778 M0,539.5H778" stroke="#e8e8e8" stroke-width="1"/>
<path d="M0,538.5H778" stroke="#555" stroke-width="1"/>
<path d="M776.5,0V540" stroke="#2a2a2a" stroke-width="1"/>
<path d="M389.5,0V540" stroke="#454545" stroke-width="1"/>
<path d="M0,270.5H778" stroke="#303030" stroke-width="1"/>
<path d="M388.5,0V540 M0,269.5H778" stroke="#bbbbbb" stroke-width="1"/>
</svg>
</body></html>
